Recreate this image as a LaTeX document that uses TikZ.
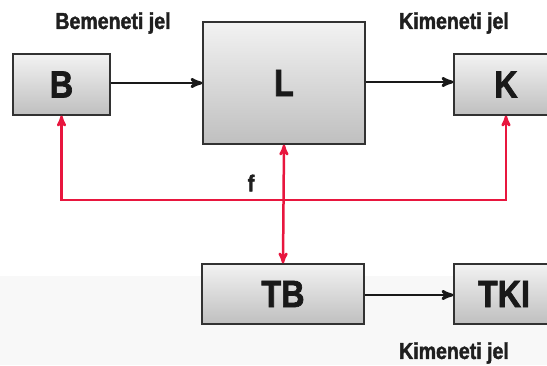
\documentclass[tikz,border=0pt]{standalone}
\usepackage{fontspec}
\setmainfont{Liberation Sans}[FakeStretch=0.85, BoldFeatures={FakeBold=1.8}]
\usepackage{tikz}
\usetikzlibrary{calc}
\usetikzlibrary{arrows}
\definecolor{sigred}{RGB}{232,22,62}
\definecolor{boxline}{RGB}{50,50,50}
\definecolor{lowgray}{RGB}{248,248,248}
\tikzset{
  blokk/.style = {draw=boxline, line width=1.3pt, top color=white!95!black,
                  bottom color=black!25, inner sep=0pt, text=black!90,
                  font=\fontsize{38}{38}\selectfont\bfseries},
  felirat/.style = {font=\fontsize{23}{23}\selectfont\bfseries, text=black!88},
  jelnyil/.style = {black!90, line width=2.8pt, ->, >=stealth'},
  visszacs/.style = {sigred, line width=2.5pt, >=stealth'}
}

\begin{document}
\begin{tikzpicture}[x=1pt, y=-1pt]
    \useasboundingbox (0,0) rectangle (547,365);
    \clip (0,0) rectangle (547,365);
    \fill[lowgray] (0,276) rectangle (547,365);

    % blokkok
    \node[blokk, minimum width=97, minimum height=61] (B) at (61.5,84.5) {B};
    \node[blokk, minimum width=162, minimum height=122] (L) at (284,83) {L};
    \node[blokk, minimum width=104, minimum height=61] (K) at (506,84.5) {K};
    \node[blokk, minimum width=162, minimum height=60] (TB) at (283,294) {TB};
    \node[blokk, minimum width=100, minimum height=60] (TKI) at (504,294) {TKI};

    % feliratok
    \node[felirat] (bemenet) at (113,23) {Bemeneti jel};
    \node[felirat] (kimenet) at (454,23) {Kimeneti jel};
    \node[felirat] (kimenet2) at (454,353) {Kimeneti jel};
    \node[felirat] (f) at (251,183) {f};

    % jelutak
    \coordinate (fvonal) at (0,200);
    \draw[jelnyil] (B.east |- 0,83) -- (L.west |- 0,83);
    \draw[jelnyil] (L.east |- 0,82) -- (K.west |- 0,82);
    \draw[jelnyil] (TB.east |- 0,295) -- (TKI.west |- 0,295);
    \draw[visszacs, <->] (B.south) -- (B.south |- fvonal) -- (K.south |- fvonal) -- (K.south);
    \draw[visszacs, <->] (L.south) -- (TB.north);
\end{tikzpicture}
\end{document}
